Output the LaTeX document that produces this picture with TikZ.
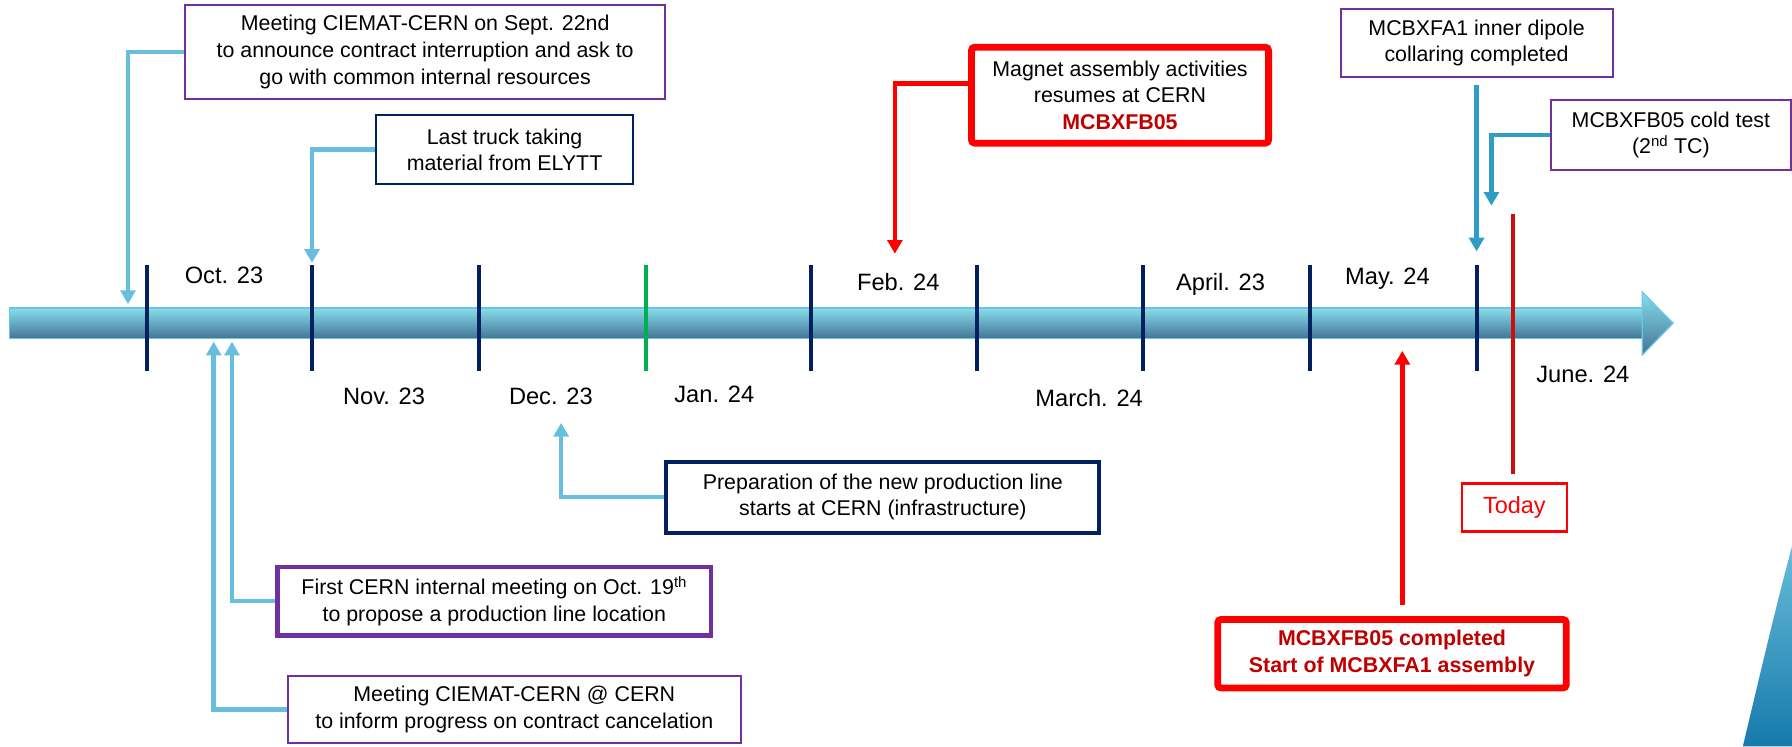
\documentclass[tikz,border=0pt]{standalone}
\usepackage{fontspec}
\setmainfont{Liberation Sans}
\usetikzlibrary{arrows.meta,positioning,calc}
\definecolor{evPurple}{RGB}{112,48,160}
\definecolor{evNavy}{RGB}{0,32,96}
\definecolor{lnBlue}{RGB}{104,190,222}
\definecolor{lnTeal}{RGB}{46,158,196}
\definecolor{tkGreen}{RGB}{0,176,80}
\definecolor{dkRed}{RGB}{192,0,0}
\definecolor{tdRed}{RGB}{204,16,16}
\definecolor{barTop}{RGB}{135,222,236}
\definecolor{barBot}{RGB}{68,116,150}
\definecolor{barEdge}{RGB}{104,200,226}
\definecolor{swTop}{RGB}{104,188,218}
\definecolor{swBot}{RGB}{22,122,172}

\begin{document}
\begin{tikzpicture}[x=1pt, y=-1pt, font=\fontsize{18.7}{23.3}\selectfont]
\tikzset{
  box/.style  ={draw, align=center, inner sep=0pt, fill=white},
  pbox/.style ={box, draw=evPurple, line width=1.7pt},
  nbox/.style ={box, draw=evNavy, line width=1.7pt},
  rbox/.style ={box, draw=red, line width=6pt, rounded corners=3pt},
  month/.style={anchor=base, font=\fontsize{20.7}{24}\selectfont},
  tick/.style ={draw=evNavy, line width=3.5pt},
  aL/.style={-{Triangle[length=12pt,width=13pt]}, line width=4pt, draw=lnBlue},
  aT/.style={-{Triangle[length=12pt,width=13pt]}, line width=4pt, draw=lnTeal},
  aR/.style={-{Triangle[length=12pt,width=13pt]}, line width=4pt, draw=red}
}
\useasboundingbox (0,0) rectangle (1568,653);

% time line
\shade[top color=barTop, bottom color=barBot] (8,269.5) rectangle (1437,296);
\draw[barEdge, line width=1pt] (8,269.5) rectangle (1437,296);
\shade[top color=barTop, bottom color=barBot, draw=barEdge, line width=1pt]
  (1437,255.5) -- (1464,282.75) -- (1437,310.6) -- cycle;
\foreach \x in {129,273,419,710,855,1000,1146,1292}
  \draw[tick] (\x,232) -- (\x,325);
\draw[tick, draw=tkGreen] (565,232) -- (565,325);

% months
\node[month] (oct) at (196,248) {Oct. 23};
\node[month] (nov) at (336,354) {Nov. 23};
\node[month] (dec) at (482,354) {Dec. 23};
\node[month] (jan) at (625,352) {Jan. 24};
\node[month] (feb) at (786,254) {Feb. 24};
\node[month] (mar) at (953,356) {March. 24};
\node[month] (apr) at (1068,254) {April. 23};
\node[month] (may) at (1214,249) {May. 24};
\node[month] (jun) at (1385,335) {June. 24};

% events
\node (sept)[pbox, minimum width=420pt, minimum height=83pt] at (372,45.5)
  {Meeting CIEMAT-CERN on Sept. 22nd\\to announce contract interruption and ask to\\go with common internal resources};
\node (truck)[nbox, minimum width=225pt, minimum height=60pt] at (441.5,131)
  {Last truck taking\\material from ELYTT};
\node (prep)[nbox, line width=3.5pt, minimum width=379pt, minimum height=62pt] at (772.5,435)
  {Preparation of the new production line\\starts at CERN (infrastructure)};
\node (first)[pbox, line width=4pt, minimum width=379pt, minimum height=60pt] at (432.5,526)
  {First CERN internal meeting on Oct. 19\textsuperscript{th}\\to propose a production line location};
\node (meet)[pbox, minimum width=396pt, minimum height=59pt] at (450,621)
  {Meeting CIEMAT-CERN @ CERN\\to inform progress on contract cancelation};
\node (mag)[rbox, minimum width=260pt, minimum height=84pt] at (980,83.3)
  {Magnet assembly activities\\resumes at CERN\\\textcolor{dkRed}{\textbf{MCBXFB05}}};
\node (fa1)[pbox, minimum width=238pt, minimum height=60pt] at (1292,37.5)
  {MCBXFA1 inner dipole\\collaring completed};
\node (cold)[pbox, minimum width=210pt, minimum height=61pt] at (1462,118)
  {MCBXFB05 cold test\\(2\textsuperscript{nd} TC)};
\node (today)[box, draw=red, line width=2pt, text=red, font=\fontsize{20.5}{24}\selectfont,
  minimum width=92pt, minimum height=42pt] at (1325,444) {Today};
\node (done)[rbox, text=dkRed, font=\fontsize{18.7}{23.3}\selectfont\bfseries,
  minimum width=305pt, minimum height=60pt] at (1218,572)
  {MCBXFB05 completed\\Start of MCBXFA1 assembly};

% arrow tips
\coordinate (septTip)  at (112,266);
\coordinate (truckTip) at (273,230);
\coordinate (prepTip)  at (491,370);
\coordinate (firstTip) at (203,299);
\coordinate (meetTip)  at (187,299);
\coordinate (magTip)   at (783,222);
\coordinate (fa1Tip)   at (1292,220);
\coordinate (coldTip)  at (1305,180);
\coordinate (doneTip)  at (1227,307);
\coordinate (todayTop) at (1324,187);

\draw[aL] (sept.west) -| (septTip);
\draw[aL] (truck.west) -| (truckTip);
\draw[aL] (prep.west) -| (prepTip);
\draw[aL] (first.west) -| (firstTip);
\draw[aL] (meet.west) -| (meetTip);
\draw[aR] ([yshift=10pt]mag.west) -| (magTip);
\draw[aT] ([yshift=-6pt]fa1.south) -- (fa1Tip);
\draw[aT] (cold.west) -| (coldTip);
\draw[aR] ([xshift=9pt,yshift=10pt]done.north) -- (doneTip);
\draw[tdRed, line width=4pt] ([xshift=-1pt,yshift=7pt]today.north) -- (todayTop);

% corner decoration
\shade[top color=swTop, bottom color=swBot]
  (1525,653) .. controls (1540,590) and (1554,530) .. (1568,478) -- (1568,653) -- cycle;
\end{tikzpicture}
\end{document}
